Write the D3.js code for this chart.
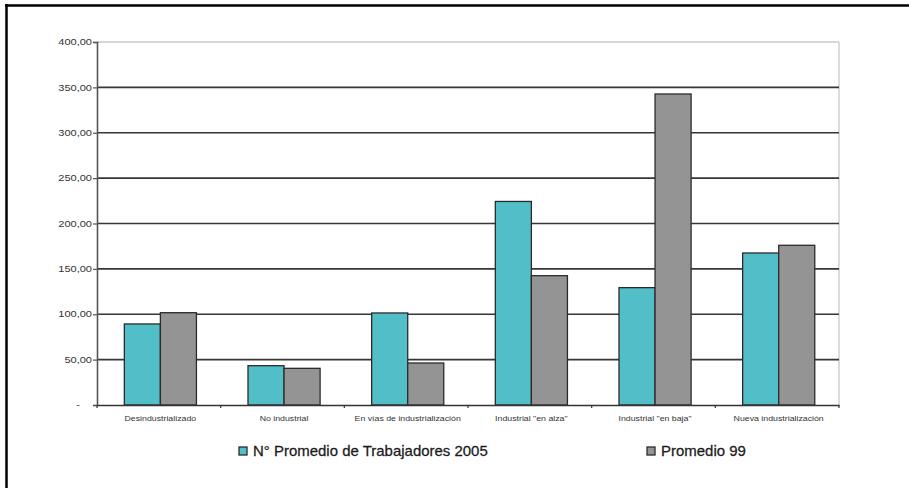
<!DOCTYPE html>
<html>
<head>
<meta charset="utf-8">
<script src="https://cdn.jsdelivr.net/npm/d3@7"></script>
<style>
  html, body { margin: 0; padding: 0; background: #ffffff; }
  svg { display: block; font-family: "Liberation Sans", Arial, sans-serif; }
</style>
</head>
<body>
<svg id="chart" width="909" height="488"></svg>
<script>
// ---- Data ----
const categories = [
  "Desindustrializado",
  "No industrial",
  "En vías de industrialización",
  "Industrial \"en alza\"",
  "Industrial \"en baja\"",
  "Nueva industrialización"
];
const seriesNames = ["N° Promedio de Trabajadores 2005", "Promedio 99"];
const values2005 = [89.3, 43.3, 101.4, 224.3, 129.3, 167.5];
const values99   = [101.7, 40.4, 46.3, 142.5, 342.7, 176.0];
const yTickValues = [0, 50, 100, 150, 200, 250, 300, 350, 400];
const yTickLabels = ["-", "50,00", "100,00", "150,00", "200,00", "250,00", "300,00", "350,00", "400,00"];
const seriesColors = ["#52bec7", "#949494"];

// ---- Layout ----
const W = 909, H = 488;
const plotLeft = 97, plotRight = 839, plotTop = 42, plotBottom = 405;

const svg = d3.select("#chart");
svg.append("rect").attr("width", W).attr("height", H).attr("fill", "#fff");

// outer frame (cut at right and bottom)
svg.append("line").attr("x1", 6.5).attr("x2", 6.5).attr("y1", 4).attr("y2", H)
  .attr("stroke", "#000").attr("stroke-width", 2.5);
svg.append("line").attr("x1", 5).attr("x2", W).attr("y1", 5.5).attr("y2", 5.5)
  .attr("stroke", "#000").attr("stroke-width", 2.5);

const x0 = d3.scaleBand().domain(categories).range([plotLeft, plotRight]).paddingInner(0).paddingOuter(0);
const x1 = d3.scaleBand().domain(seriesNames).range([0, x0.bandwidth()]).paddingInner(0).paddingOuter(0.715).align(0.53);
const y = d3.scaleLinear().domain([0, 400]).range([plotBottom, plotTop]);

// plot area border (light) top & right
svg.append("line").attr("x1", plotLeft).attr("x2", plotRight).attr("y1", y(400)).attr("y2", y(400))
  .attr("stroke", "#c8c8c8").attr("stroke-width", 1.5);
svg.append("line").attr("x1", plotRight).attr("x2", plotRight).attr("y1", plotTop).attr("y2", plotBottom)
  .attr("stroke", "#d0d0d0").attr("stroke-width", 1.5);

// gridlines
svg.append("g").selectAll("line")
  .data(yTickValues.filter(v => v > 0 && v < 400))
  .join("line")
  .attr("x1", plotLeft).attr("x2", plotRight)
  .attr("y1", d => y(d)).attr("y2", d => y(d))
  .attr("stroke", "#3b3434").attr("stroke-width", 1.6);

// bars
const data = categories.map((c, i) => ({ cat: c, vals: [values2005[i], values99[i]] }));
const groups = svg.append("g").selectAll("g").data(data).join("g")
  .attr("transform", d => `translate(${x0(d.cat)},0)`);
groups.selectAll("rect")
  .data(d => d.vals.map((v, j) => ({ name: seriesNames[j], v, j })))
  .join("rect")
  .attr("x", d => x1(d.name))
  .attr("width", x1.bandwidth())
  .attr("y", d => y(d.v))
  .attr("height", d => y(0) - y(d.v))
  .attr("fill", d => seriesColors[d.j])
  .attr("stroke", "#2e2a2a")
  .attr("stroke-width", 1.3);

// Y axis
const yAxis = d3.axisLeft(y).tickValues(yTickValues)
  .tickFormat((d, i) => yTickLabels[i]).tickSize(4).tickPadding(3);
const gy = svg.append("g").attr("transform", `translate(${plotLeft},0)`).call(yAxis);
gy.select(".domain").attr("stroke", "#555").attr("stroke-width", 1.6);
gy.selectAll(".tick line").attr("stroke", "#555").attr("stroke-width", 1.2);
const sxTick = 1.3;
gy.selectAll(".tick text")
  .attr("font-size", 8.5)
  .attr("fill", "#333")
  .attr("font-family", "\"Liberation Sans\", Arial, sans-serif")
  .attr("x", d => (d === 0 ? -17 : -5) / sxTick)
  .attr("transform", `scale(${sxTick},1)`);

// X axis
const xAxis = d3.axisBottom(x0).tickSize(0).tickFormat("");
const gx = svg.append("g").attr("transform", `translate(0,${plotBottom})`).call(xAxis);
gx.select(".domain").attr("stroke", "#333").attr("stroke-width", 1.6);
gx.selectAll(".tick").remove();
// boundary tick marks
const bounds = categories.map(c => x0(c)).concat([plotRight]);
gx.selectAll(".bt").data(bounds).join("line")
  .attr("class", "bt")
  .attr("x1", d => d).attr("x2", d => d).attr("y1", 0).attr("y2", 3)
  .attr("stroke", "#333").attr("stroke-width", 1.2);

// category labels
const sxCat = 1.17;
svg.append("g").selectAll("text").data(categories).join("text")
  .attr("transform", d => `translate(${x0(d) + x0.bandwidth() / 2 + 1.5},421) scale(${sxCat},1)`)
  .attr("text-anchor", "middle")
  .attr("font-size", 7.5)
  .attr("fill", "#333")
  .text(d => d);

// legend
const legendX = [239, 647];
const sxLeg = 1.07;
const leg = svg.append("g").selectAll("g").data(seriesNames).join("g")
  .attr("transform", (d, i) => `translate(${legendX[i]},447)`);
leg.append("rect")
  .attr("width", 8).attr("height", 8)
  .attr("fill", (d, i) => seriesColors[i])
  .attr("stroke", "#2e2a2a").attr("stroke-width", 1.3);
leg.append("text")
  .attr("transform", `translate(14,9) scale(${sxLeg},1)`)
  .attr("font-size", 14)
  .attr("fill", "#1a1a1a")
  .attr("stroke", "#1a1a1a").attr("stroke-width", 0.25)
  .text(d => d);
</script>
</body>
</html>
